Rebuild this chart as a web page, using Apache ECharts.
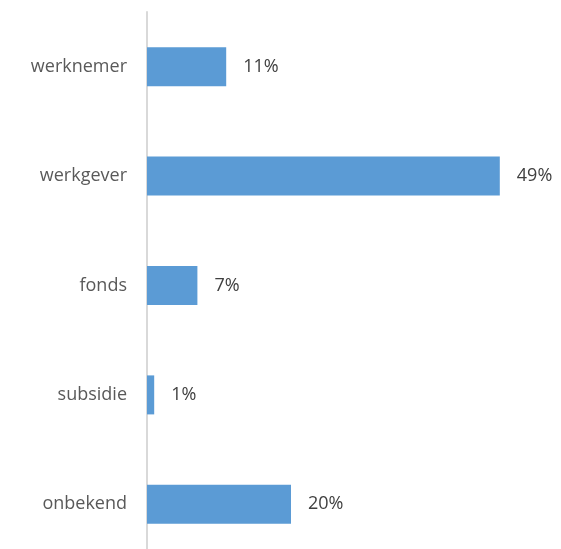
<!DOCTYPE html>
<html>
<head>
<meta charset="utf-8">
<script src="https://cdn.jsdelivr.net/npm/echarts@6/dist/echarts.min.js"></script>
<style>
  html, body { margin: 0; padding: 0; background: #fff; overflow: hidden; }
  /* the plot runs a little past the bottom edge of the window */
  #chart { width: 561px; height: 559px; }
</style>
</head>
<body>
<div id="chart"></div>
<script>
// Financiering: wie betaalt (aandeel in procent)
const categories = ['werknemer', 'werkgever', 'fonds', 'subsidie', 'onbekend'];
const shares = [11, 49, 7, 1, 20];

const chart = echarts.init(document.getElementById('chart'));
chart.setOption({
  animation: false,
  grid: { left: 147, top: 12, right: 54, bottom: 0, containLabel: false },
  xAxis: {
    type: 'value',
    min: 0,
    max: 50,
    show: false
  },
  yAxis: {
    type: 'category',
    data: categories,
    inverse: true,
    axisLine: { show: true, lineStyle: { color: '#d9d9d9', width: 2 } },
    axisTick: { show: false },
    axisLabel: {
      color: '#595959',
      fontFamily: 'Open Sans',
      fontSize: 18,
      margin: 20
    },
    splitLine: { show: false }
  },
  series: [{
    type: 'bar',
    data: shares,
    barWidth: 39,
    itemStyle: { color: '#5b9bd5' },
    label: {
      show: true,
      position: 'right',
      distance: 17,
      color: '#404040',
      fontFamily: 'Open Sans',
      fontSize: 18,
      formatter: p => p.value + '%'
    }
  }]
});
</script>
</body>
</html>
